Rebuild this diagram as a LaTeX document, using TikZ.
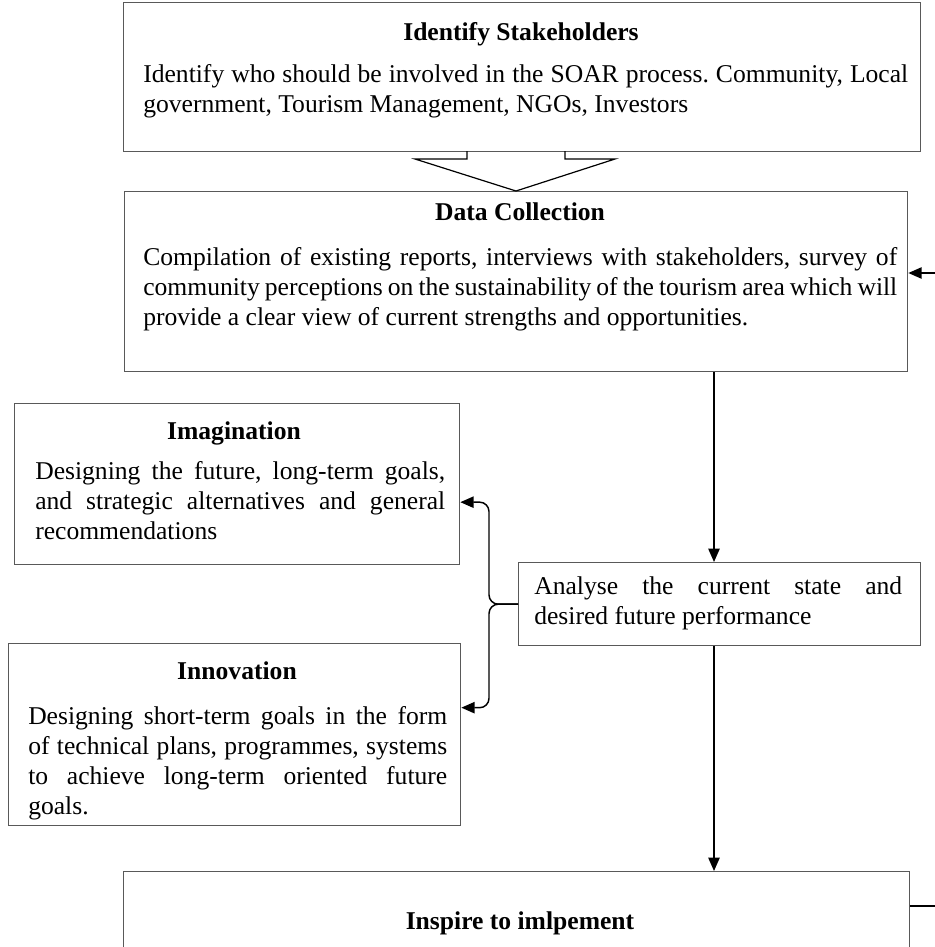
\documentclass[tikz,border=0pt]{standalone}
\usepackage{fontspec}
\setmainfont{Liberation Serif}
\usetikzlibrary{arrows.meta,calc}
\tikzset{
  box/.style={draw=black!65, line width=1pt, fill=white, anchor=north west, inner sep=0pt},
  ttl/.style={font=\bfseries, anchor=base, inner sep=0pt},
  txt/.style={align=justify, anchor=base west, inner sep=0pt},
  arr/.style={-{Triangle[length=10pt,width=8.5pt]}, line width=1.1pt},
}
\begin{document}
\frenchspacing
\fontsize{19.2}{22.5}\selectfont
\begin{tikzpicture}[x=0.75pt, y=-0.75pt]
      \clip (0,0) rectangle (935,947);
      % boxes
      \node[box, minimum width=597.75pt, minimum height=111.75pt] (stake) at (123,2) {};
      \node[box, minimum width=587.25pt, minimum height=135pt] (data) at (124,191) {};
      \node[box, minimum width=333.75pt, minimum height=120.75pt] (imag) at (14,403) {};
      \node[box, minimum width=301.5pt, minimum height=62.25pt] (anal) at (518,562) {};
      \node[box, minimum width=339pt, minimum height=136.5pt] (innov) at (8,643) {};
      \node[box, minimum width=589.5pt, minimum height=90pt] (insp) at (123,871) {};
      % hollow arrow
      \draw[line width=0.9pt] (467,151) -- (467,159) -- (415,159) -- (516,191)
        -- (615,159) -- (565,159) -- (565,151);
      % texts
      \node[ttl] (stakettl) at (521,40) {Identify Stakeholders};
      \node[txt, text width=573.75pt] (staketxt) at (143,82) {Identify who should be involved in the SOAR process. Community, Local\linebreak
        government, Tourism Management, NGOs, Investors};
      \node[ttl] (datattl) at (520,220) {Data Collection};
      \node[txt, text width=565.5pt] (datatxt) at (143,265) {Compilation of existing reports, interviews with stakeholders, survey of\linebreak
        community perceptions on the sustainability of the tourism area which will\linebreak
        provide a clear view of current strengths and opportunities.};
      \node[ttl] (imagttl) at (234,439) {Imagination};
      \node[txt, text width=307.5pt] (imagtxt) at (35,479) {Designing the future, long-term goals,\linebreak
        and strategic alternatives and general\linebreak recommendations};
      \node[txt, text width=276pt] (analtxt) at (534,594) {Analyse the current state and\linebreak
        desired future performance};
      \node[ttl] (innovttl) at (237,679) {Innovation};
      \node[txt, text width=314.25pt] (innovtxt) at (28,724) {Designing short-term goals in the form\linebreak
        of technical plans, programmes, systems\linebreak
        to achieve long-term oriented future\linebreak goals.};
      \node[ttl] (insptt) at (520,929) {Inspire to imlpement};
      % connectors
      \coordinate (down) at (714,0);
      \coordinate (fbin) at (935,273);
      \coordinate (fbout) at (935,906);
      \draw[arr] (down |- data.south) -- (down |- anal.north);
      \draw[arr] (down |- anal.south) -- (down |- insp.north);
      \coordinate (imagin) at ($(imag.east)+(0,18)$);
      \coordinate (innovin) at ($(innov.east)+(0,-27)$);
      \draw[arr, rounded corners=7pt] (anal.west) -- ++(-29,0) |- (imagin);
      \draw[arr, rounded corners=7pt] (anal.west) -- ++(-29,0) |- (innovin);
      \draw[arr] (fbin) -- (fbin -| data.east);
      \draw[line width=1.1pt] (fbout -| insp.east) -- (fbout);
\end{tikzpicture}
\end{document}
